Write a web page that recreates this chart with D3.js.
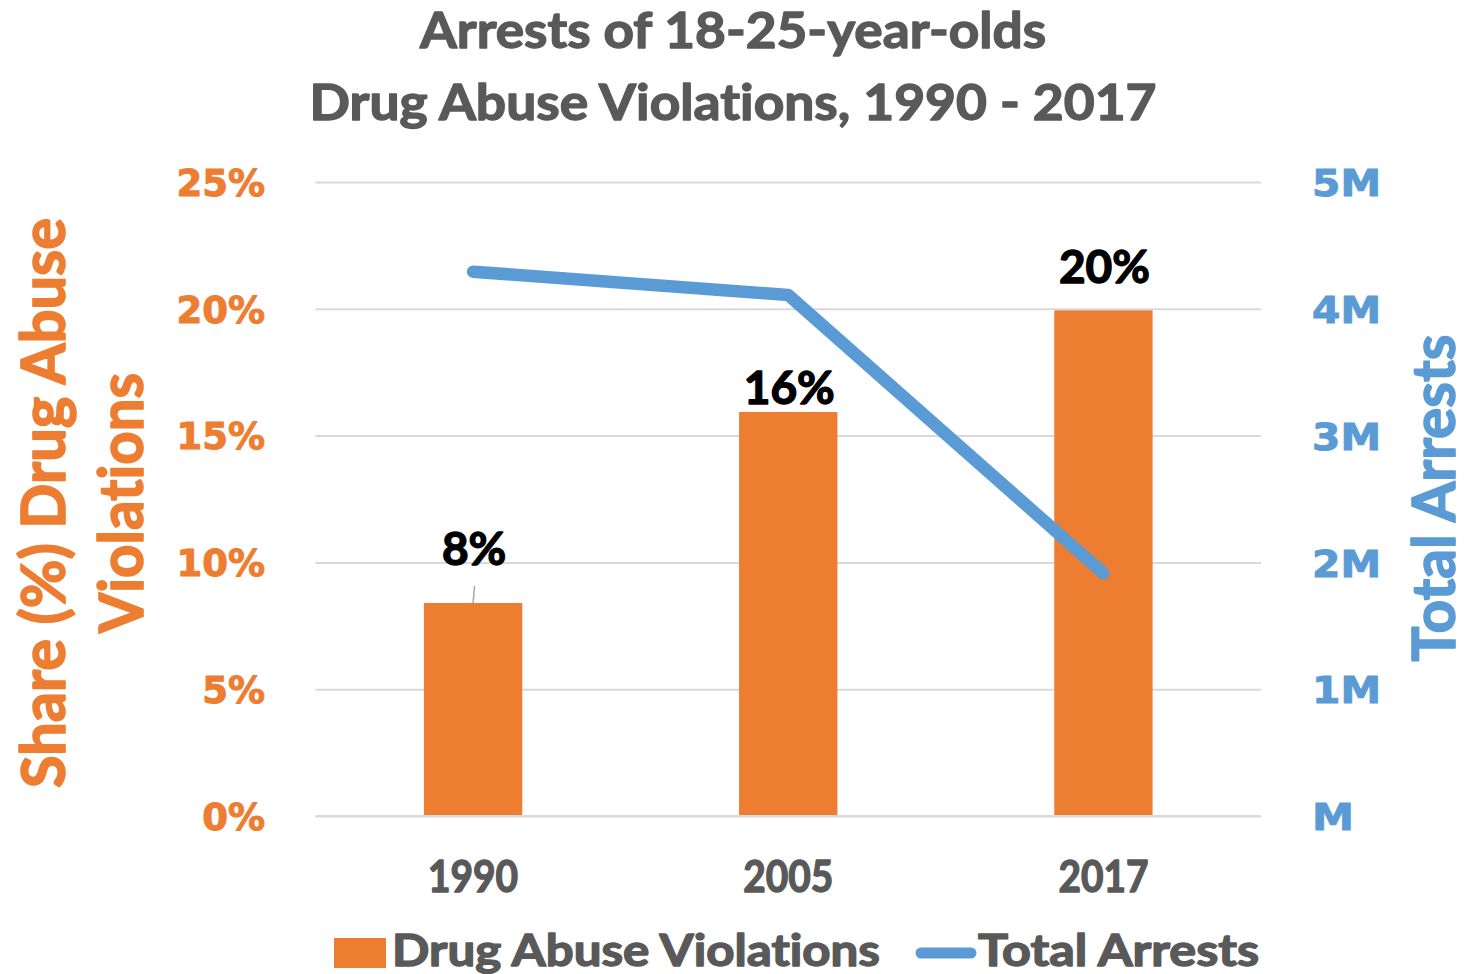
<!DOCTYPE html>
<html>
<head>
<meta charset="utf-8">
<script src="https://cdn.jsdelivr.net/npm/d3@7"></script>
<style>
  html, body { margin: 0; padding: 0; background: #ffffff; }
  svg { display: block; }
  text { font-variant-ligatures: none; font-feature-settings: "liga" 0; }
</style>
</head>
<body>
<svg id="chart" width="1478" height="974"></svg>
<script>
// Arrests of 18-25-year-olds: share for drug abuse violations (bars) and total arrests (line)
const years = ["1990", "2005", "2017"];
const drugShare = [0.084, 0.1593, 0.1994];          // share of arrests, fraction
const totalArrests = [4293000, 4109000, 1914000];    // persons
const shareTicks = [0, 0.05, 0.10, 0.15, 0.20, 0.25];
const arrestTicks = [0, 1e6, 2e6, 3e6, 4e6, 5e6];
const titleLines = ["Arrests of 18-25-year-olds", "Drug Abuse Violations, 1990 - 2017"];
const legendLabels = ["Drug Abuse Violations", "Total Arrests"];

const ORANGE = "#ED7D31";
const BLUE = "#5B9BD5";
const GRAY = "#595959";
const GRID = "#D9D9D9";
const TEXT_FONT = "Lato, 'Open Sans', sans-serif";
const TICK_FONT = "'DejaVu Sans', Verdana, sans-serif";

const svg = d3.select("#chart");
const plot = { left: 315.5, right: 1261, top: 182, bottom: 816 };

const x = d3.scaleBand().domain(years).range([plot.left, plot.right]).paddingInner(0).paddingOuter(0);
const yShare = d3.scaleLinear().domain([0, 0.25]).range([plot.bottom, plot.top]);
const yArrests = d3.scaleLinear().domain([0, 5e6]).range([plot.bottom, plot.top]);

// Heavier text: fill plus a thin outline of the same colour
function heavy(sel, color, w) {
  return sel.attr("fill", color).attr("stroke", color).attr("stroke-width", w)
    .attr("stroke-linejoin", "round");
}

// Title
heavy(svg.append("g").selectAll("text").data(titleLines).join("text")
  .attr("x", 733)
  .attr("y", (d, i) => 48 + i * 72)
  .attr("text-anchor", "middle")
  .attr("font-family", TEXT_FONT)
  .attr("font-weight", 700)
  .attr("font-size", 50)
  .attr("textLength", (d, i) => [626, 847][i])
  .attr("lengthAdjust", "spacingAndGlyphs")
  .text(d => d), GRAY, 1.4);

// Horizontal gridlines from the left axis
const gridAxis = d3.axisLeft(yShare).tickValues(shareTicks)
  .tickSize(-(plot.right - plot.left)).tickFormat("");
const gridG = svg.append("g").attr("transform", `translate(${plot.left},0)`).call(gridAxis);
gridG.select(".domain").remove();
gridG.selectAll(".tick line").attr("stroke", GRID).attr("stroke-width", 2);

// Left axis tick labels
const leftAxis = d3.axisLeft(yShare).tickValues(shareTicks).tickSize(0).tickPadding(0)
  .tickFormat(d3.format(".0%"));
const leftG = svg.append("g").attr("transform", `translate(265,0)`).call(leftAxis);
leftG.select(".domain").remove();
heavy(leftG.selectAll(".tick text")
  .attr("font-family", TICK_FONT).attr("font-weight", 700).attr("font-size", 37)
  .attr("dy", "0.36em"), ORANGE, 1);

// Right axis tick labels
const fmtM = d => (d === 0 ? "" : d3.format("d")(d / 1e6)) + "M";
const rightAxis = d3.axisRight(yArrests).tickValues(arrestTicks).tickSize(0).tickPadding(0)
  .tickFormat(fmtM);
const rightG = svg.append("g").attr("transform", `translate(1312,0)`).call(rightAxis);
rightG.select(".domain").remove();
heavy(rightG.selectAll(".tick text")
  .attr("font-family", TICK_FONT).attr("font-weight", 700).attr("font-size", 38)
  .attr("dy", "0.36em")
  .attr("textLength", d => d === 0 ? 42 : 69)
  .attr("lengthAdjust", "spacingAndGlyphs"), BLUE, 1);

// Axis titles
const leftTitle = ["Share (%) Drug Abuse", "Violations"];
heavy(svg.append("g").selectAll("text").data(leftTitle).join("text")
  .attr("transform", (d, i) => `translate(${[65, 143][i]},503) rotate(-90)`)
  .attr("text-anchor", "middle")
  .attr("font-family", TEXT_FONT).attr("font-weight", 700).attr("font-size", 61)
  .attr("textLength", (d, i) => [570, 260][i])
  .attr("lengthAdjust", "spacingAndGlyphs")
  .text(d => d), ORANGE, 1.6);

heavy(svg.append("text")
  .attr("transform", `translate(1455,498) rotate(-90)`)
  .attr("text-anchor", "middle")
  .attr("font-family", TEXT_FONT).attr("font-weight", 700).attr("font-size", 60)
  .attr("textLength", 327)
  .attr("lengthAdjust", "spacingAndGlyphs")
  .text("Total Arrests"), BLUE, 1.6);

// X axis category labels
const xAxis = d3.axisBottom(x).tickSize(0).tickPadding(0);
const xG = svg.append("g").attr("transform", `translate(0,892)`).call(xAxis);
xG.select(".domain").remove();
heavy(xG.selectAll(".tick text")
  .attr("font-family", TEXT_FONT).attr("font-weight", 700).attr("font-size", 43)
  .attr("dy", 0)
  .attr("textLength", 90).attr("lengthAdjust", "spacingAndGlyphs"), GRAY, 1.4);

// Bars
const barW = x.bandwidth() * 0.312;
const bars = years.map((yr, i) => ({ year: yr, value: drugShare[i] }));
svg.append("g").selectAll("rect").data(bars).join("rect")
  .attr("x", d => x(d.year) + x.bandwidth() / 2 - barW / 2)
  .attr("y", d => yShare(d.value))
  .attr("width", barW)
  .attr("height", d => plot.bottom - yShare(d.value))
  .attr("fill", ORANGE);

// Baseline over the bars
svg.append("line")
  .attr("x1", plot.left).attr("x2", plot.right)
  .attr("y1", yShare(0)).attr("y2", yShare(0))
  .attr("stroke", GRID).attr("stroke-width", 2);

// Data labels (the first one is lifted and tied back with a leader line)
const labelLift = [30, 0, 19];
const labelLeader = [true, false, false];
const labelG = svg.append("g");
bars.forEach((d, i) => {
  const cx = x(d.year) + x.bandwidth() / 2;
  const baseY = yShare(d.value) - 8 - labelLift[i];
  if (labelLeader[i]) {
    labelG.append("line")
      .attr("x1", cx + 1.5).attr("y1", baseY + 21)
      .attr("x2", cx).attr("y2", yShare(d.value))
      .attr("stroke", "#A6A6A6").attr("stroke-width", 1.5);
  }
  heavy(labelG.append("text")
    .attr("x", cx + 1).attr("y", baseY)
    .attr("text-anchor", "middle")
    .attr("font-family", TEXT_FONT).attr("font-weight", 700).attr("font-size", 46)
    .text(d3.format(".0%")(d.value)), "#000000", 1.4);
});

// Total arrests line
const pts = years.map((yr, i) => [x(yr) + x.bandwidth() / 2, yArrests(totalArrests[i])]);
svg.append("path")
  .attr("d", d3.line()(pts))
  .attr("fill", "none")
  .attr("stroke", BLUE)
  .attr("stroke-width", 12.5)
  .attr("stroke-linecap", "round")
  .attr("stroke-linejoin", "round");

// Legend
const legend = svg.append("g");
legend.append("rect").attr("x", 334).attr("y", 938).attr("width", 52).attr("height", 30).attr("fill", ORANGE);
heavy(legend.append("text")
  .attr("x", 392).attr("y", 966)
  .attr("font-family", TEXT_FONT).attr("font-weight", 700).attr("font-size", 44)
  .attr("textLength", 488).attr("lengthAdjust", "spacingAndGlyphs")
  .text(legendLabels[0]), GRAY, 1.4);
legend.append("line")
  .attr("x1", 921).attr("x2", 971).attr("y1", 953).attr("y2", 953)
  .attr("stroke", BLUE).attr("stroke-width", 11).attr("stroke-linecap", "round");
heavy(legend.append("text")
  .attr("x", 978).attr("y", 966)
  .attr("font-family", TEXT_FONT).attr("font-weight", 700).attr("font-size", 44)
  .attr("textLength", 281).attr("lengthAdjust", "spacingAndGlyphs")
  .text(legendLabels[1]), GRAY, 1.4);
</script>
</body>
</html>
